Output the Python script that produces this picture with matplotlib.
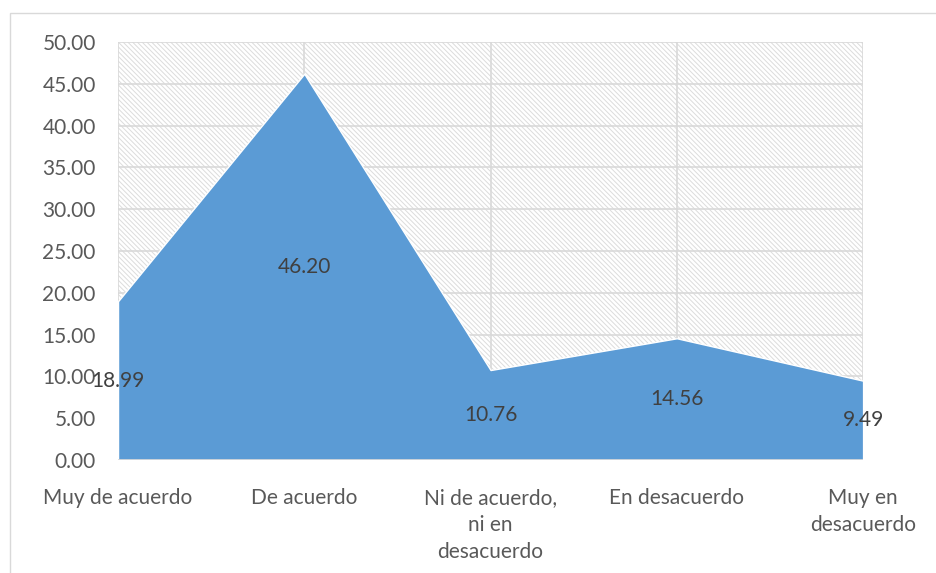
import numpy as np
import matplotlib.pyplot as plt
from matplotlib.patches import Rectangle

categorias = ['Muy de acuerdo', 'De acuerdo', 'Ni de acuerdo,\nni en\ndesacuerdo',
              'En desacuerdo', 'Muy en\ndesacuerdo']
valores = [18.99, 46.20, 10.76, 14.56, 9.49]
yticks = [0, 5, 10, 15, 20, 25, 30, 35, 40, 45, 50]

plt.rcParams['font.family'] = ['Lato', 'DejaVu Sans']
plt.rcParams['hatch.linewidth'] = 0.7

fig = plt.figure(figsize=(9.36, 5.73), dpi=100)
ax = fig.add_axes([0.1261, 0.1972, 0.796, 0.7295])

x = np.arange(len(valores))
grey = '#d9d9d9'
txt = '#595959'

# fondo rayado
ax.add_patch(Rectangle((0, 0), 4, 50, facecolor='white', edgecolor='#dcdcdc',
                       hatch='\\' * 7, linewidth=0, zorder=0))
for yv in yticks[1:]:
    ax.axhline(yv, color=grey, lw=1.2, zorder=1)
for xv in x:
    ax.axvline(xv, color=grey, lw=1.2, zorder=1)

ax.fill_between(x, valores, 0, color='#5b9bd5', edgecolor='white', lw=1, zorder=2)

for xi, v in zip(x, valores):
    ax.text(xi, v / 2, '%.2f' % v, ha='center', va='center', fontsize=15,
            color='#404040', zorder=3)

ax.set_xlim(0, 4)
ax.set_ylim(0, 50)
ax.set_yticks(yticks)
ax.set_yticklabels(['%.2f' % t for t in yticks])
ax.set_xticks(x)
ax.set_xticklabels(categorias, linespacing=1.45)
ax.tick_params(length=0, labelsize=15, colors=txt)
ax.tick_params(axis='y', pad=16)
ax.tick_params(axis='x', pad=20)
for s in ax.spines.values():
    s.set_visible(False)
ax.axhline(0, color=grey, lw=1.2, zorder=3)

# borde del grafico
fig.add_artist(Rectangle((10 / 936, -0.1), 1.0, 1 - 13 / 573 + 0.1,
                         transform=fig.transFigure, fill=False,
                         edgecolor=grey, lw=1))

fig.savefig('out.png', dpi=100)
